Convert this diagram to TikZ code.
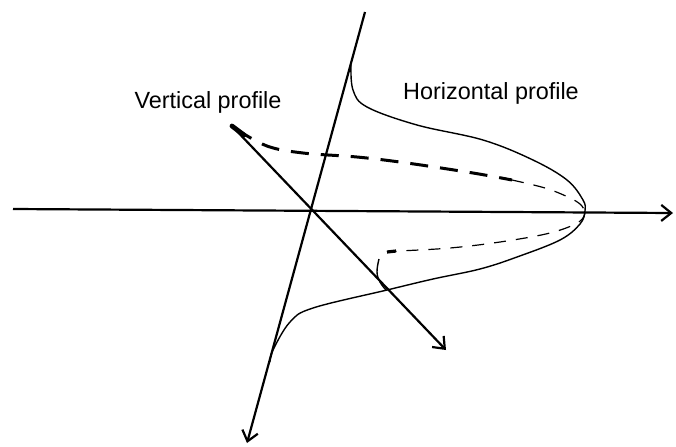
\documentclass[tikz,border=0pt]{standalone}
\usepackage{fontspec}
\setmainfont{Liberation Sans}
\usetikzlibrary{arrows.meta}
\tikzset{
  asse/.style={line width=1.1pt,-{Straight Barb[length=5pt,width=8pt]}},
  profilo/.style={line width=0.7pt},
  tratteggio/.style={line width=0.6pt,dash pattern=on 6pt off 5pt},
  trattspesso/.style={line width=1.5pt,dash pattern=on 9pt off 6pt},
  etichetta/.style={font=\fontsize{11.7}{14}\selectfont,inner sep=0pt}
}
\begin{document}
\begin{tikzpicture}[x=0.5pt,y=-0.5pt]
    \useasboundingbox (0,0) rectangle (676,446);
    %punti degli assi
    \coordinate (xa) at (13,209);
    \coordinate (xb) at (673,213);
    \coordinate (za) at (365,12);
    \coordinate (zb) at (247,443);
    \coordinate (ya) at (232,126);
    \coordinate (yb) at (446,350);
    %disegno assi
    \draw[asse] (xa)--(xb);
    \draw[asse] (za)--(zb);
    \draw[asse] (ya)--(yb);
    %punta spessa dell'asse obliquo
    \draw[line width=2.4pt,line cap=round] (ya)--++(12,9);
    %disegno profilo orizzontale
    \draw[profilo] plot[smooth,tension=0.6] coordinates {(351,65) (353,90) (367,107) (417,125) (483,140) (533,160) (567,180) (583,200) (585,211) (580,224) (560,240) (517,257) (480,269) (433,279) (387,290) (313,308) (290,322) (273,350) (270,362)};
    %disegno profilo verticale (tratteggiato)
    \draw[trattspesso] plot[smooth,tension=0.6] coordinates {(236,129) (267,146) (303,153) (357,157) (407,163) (473,173) (512,180)};
    \draw[tratteggio] plot[smooth,tension=0.6] coordinates {(512,180) (545,188) (568,197) (580,204) (585,211)};
    \draw[tratteggio] plot[smooth,tension=0.6] coordinates {(585,212) (579,222) (550,233) (500,242) (450,248) (400,251) (387,252)};
    \draw[line width=1.6pt] (387,252)--(396,251);
    %gancetto sull'asse obliquo
    \draw[profilo] plot[smooth,tension=0.7] coordinates {(379,259) (377,272) (380,282) (386,290)};
    %etichette
    \node[etichetta] (vert) at (208,102) {Vertical profile};
    \node[etichetta] (oriz) at (491,93) {Horizontal profile};
\end{tikzpicture}
\end{document}
